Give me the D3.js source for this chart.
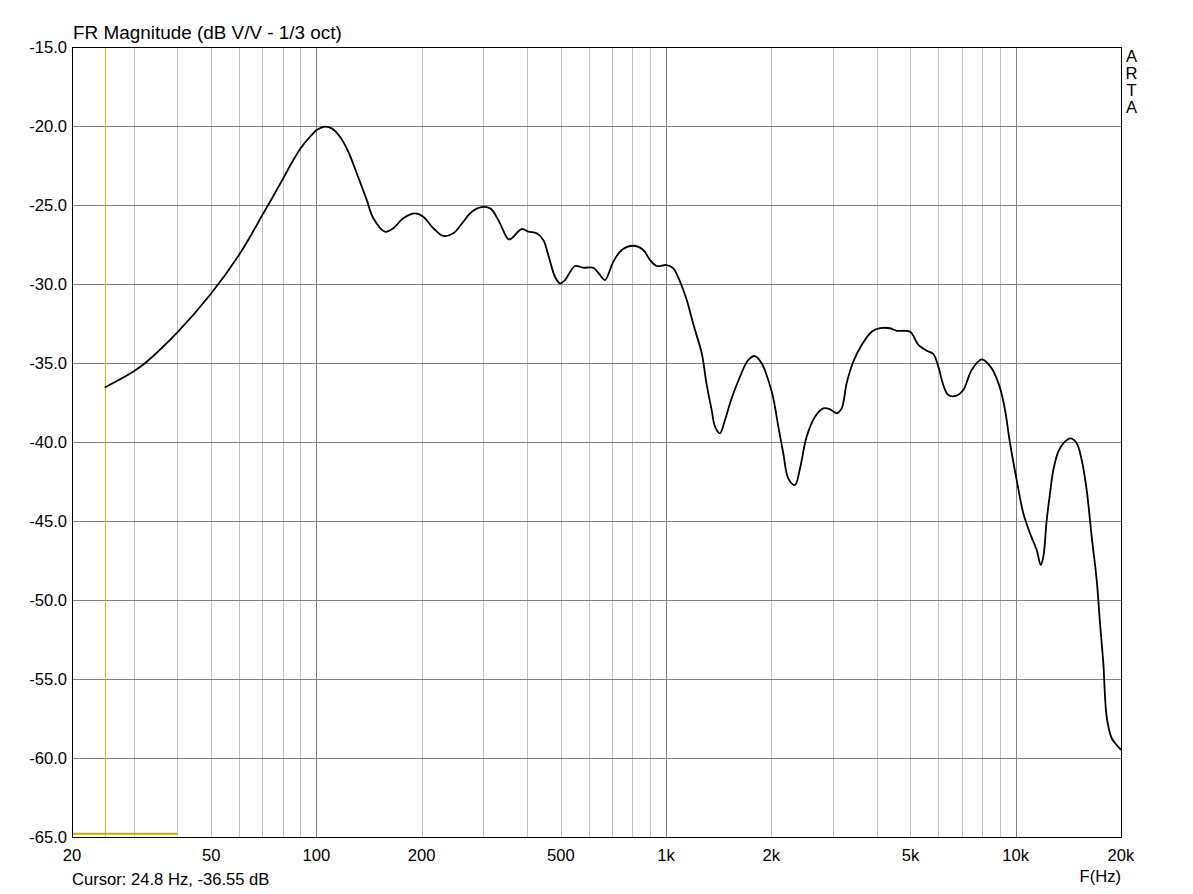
<!DOCTYPE html>
<html>
<head>
<meta charset="utf-8">
<script src="https://cdn.jsdelivr.net/npm/d3@7"></script>
<style>
  html, body { margin: 0; padding: 0; background: #ffffff; }
  svg text { font-family: Arial, "Liberation Sans", sans-serif; fill: #000; }
</style>
</head>
<body>
<svg id="chart" width="1193" height="894"></svg>
<script>
// ---- data ----
const freqHz = [24.8, 29.9, 32.4, 39.9, 49.6, 60.5, 70.5, 73.7, 80.4, 85.9, 90.8, 95.9, 100.2, 105.8, 110.6, 116.8, 123.4, 130.4, 139.3, 145.5, 157.1, 165.9, 177.2, 191.4, 202.2, 216.0, 230.6, 246.4, 263.1, 275.0, 293.8, 313.7, 320.6, 335.0, 353.8, 361.8, 386.4, 403.6, 426.6, 445.5, 460.4, 481.2, 497.3, 514.0, 549.0, 580.0, 619.4, 647.1, 668.8, 706.4, 746.7, 806.0, 860.6, 899.6, 940.2, 1004, 1049, 1096, 1146, 1184, 1210, 1265, 1307, 1350, 1380, 1426, 1474, 1540, 1627, 1718, 1796, 1877, 1960, 2026, 2094, 2164, 2236, 2337, 2416, 2524, 2667, 2816, 2944, 3076, 3178, 3284, 3430, 3626, 3873, 4091, 4370, 4566, 4986, 5266, 5566, 5812, 6006, 6206, 6414, 6778, 7080, 7482, 7990, 8536, 9016, 9318, 9632, 10064, 10512, 10986, 11482, 11786, 11992, 12262, 12532, 12808, 13236, 13678, 14360, 14938, 15440, 15956, 16490, 17042, 17418, 17802, 18204, 18814, 19442, 20000];
const magDb = [-36.55, -35.55, -35.0, -33.1, -30.7, -28.06, -25.53, -24.79, -23.31, -22.15, -21.31, -20.68, -20.25, -20.04, -20.15, -20.68, -21.63, -22.99, -24.68, -25.84, -26.69, -26.47, -25.84, -25.53, -25.74, -26.47, -26.96, -26.79, -26.06, -25.53, -25.15, -25.21, -25.42, -26.16, -27.17, -27.11, -26.52, -26.69, -26.79, -27.22, -28.16, -29.54, -29.96, -29.75, -28.86, -28.97, -28.97, -29.43, -29.75, -28.59, -27.85, -27.58, -27.85, -28.48, -28.86, -28.80, -29.01, -29.85, -31.01, -32.17, -32.91, -34.39, -36.39, -37.97, -39.03, -39.45, -38.61, -37.23, -35.87, -34.81, -34.56, -35.02, -36.08, -37.23, -39.03, -40.72, -42.30, -42.72, -41.66, -39.66, -38.40, -37.87, -37.93, -38.18, -37.87, -36.28, -34.92, -33.86, -33.02, -32.80, -32.80, -32.96, -33.02, -33.86, -34.22, -34.43, -35.23, -36.39, -37.03, -37.07, -36.71, -35.44, -34.77, -35.34, -36.58, -37.97, -40.08, -42.41, -44.51, -45.78, -46.84, -47.78, -47.26, -44.94, -43.25, -41.77, -40.61, -40.08, -39.77, -40.08, -41.14, -43.04, -45.99, -48.73, -51.47, -54.01, -57.39, -58.75, -59.18, -59.49];

const xTickValues = [20, 50, 100, 200, 500, 1000, 2000, 5000, 10000, 20000];
const xTickLabels = ["20", "50", "100", "200", "500", "1k", "2k", "5k", "10k", "20k"];
const majorGridFreqs = [100, 1000, 10000];
const minorGridFreqs = [30, 40, 50, 60, 70, 80, 90, 200, 300, 400, 500, 600, 700, 800, 900,
                        2000, 3000, 4000, 5000, 6000, 7000, 8000, 9000];
const yTickValues = [-15, -20, -25, -30, -35, -40, -45, -50, -55, -60, -65];
const cursorFreq = 24.8;
const markerRange = [20, 40];
const markerLevel = -64.8;

const titleText = "FR Magnitude (dB V/V - 1/3 oct)";
const cursorText = "Cursor: 24.8 Hz, -36.55 dB";
const axisText = "F(Hz)";
const brandLetters = ["A", "R", "T", "A"];

// ---- layout ----
const L = 72, R = 1121, T = 47, B = 837;
const svg = d3.select("#chart");
const x = d3.scaleLog().domain([20, 20000]).range([L, R]);
const y = d3.scaleLinear().domain([-65, -15]).range([B, T]);
const px = v => Math.round(v) + 0.5;

// grid: minor verticals
svg.append("g").selectAll("line").data(minorGridFreqs).join("line")
  .attr("x1", d => px(x(d))).attr("x2", d => px(x(d)))
  .attr("y1", T).attr("y2", B)
  .attr("stroke", "#c0c0c0").attr("stroke-width", 1);
// major verticals
svg.append("g").selectAll("line").data(majorGridFreqs).join("line")
  .attr("x1", d => px(x(d))).attr("x2", d => px(x(d)))
  .attr("y1", T).attr("y2", B)
  .attr("stroke", "#808080").attr("stroke-width", 1);
// horizontals
svg.append("g").selectAll("line").data(yTickValues).join("line")
  .attr("x1", L).attr("x2", R)
  .attr("y1", d => px(y(d))).attr("y2", d => px(y(d)))
  .attr("stroke", "#808080").attr("stroke-width", 1);

// cursor line
svg.append("line")
  .attr("x1", px(x(cursorFreq))).attr("x2", px(x(cursorFreq)))
  .attr("y1", T).attr("y2", B)
  .attr("stroke", "#c8c800").attr("stroke-width", 1);
// bottom marker
svg.append("line")
  .attr("x1", x(markerRange[0])).attr("x2", x(markerRange[1]))
  .attr("y1", y(markerLevel)).attr("y2", y(markerLevel))
  .attr("stroke", "#b4b400").attr("stroke-width", 2);

// frame
svg.append("rect")
  .attr("x", L + 0.5).attr("y", T + 0.5)
  .attr("width", R - L).attr("height", B - T)
  .attr("fill", "none").attr("stroke", "#000").attr("stroke-width", 1);

// curve
const pts = freqHz.map((f, i) => [f, magDb[i]]);
svg.append("path")
  .datum(pts)
  .attr("fill", "none").attr("stroke", "#000").attr("stroke-width", 1.8)
  .attr("stroke-linejoin", "round")
  .attr("d", d3.line().x(d => x(d[0])).y(d => y(d[1])).curve(d3.curveCatmullRom.alpha(0.5)));

// y tick labels
svg.append("g").selectAll("text").data(yTickValues).join("text")
  .attr("x", L - 5).attr("y", d => y(d) + 6)
  .attr("text-anchor", "end").attr("font-size", 16.6)
  .text(d => d.toFixed(1));

// x tick labels
svg.append("g").selectAll("text").data(xTickValues).join("text")
  .attr("x", d => x(d)).attr("y", 861)
  .attr("text-anchor", "middle").attr("font-size", 16.6)
  .text((d, i) => xTickLabels[i]);

// title
svg.append("text").attr("x", 73).attr("y", 39).attr("font-size", 18.9).text(titleText);
// cursor text
svg.append("text").attr("x", 72).attr("y", 885).attr("font-size", 16.6).text(cursorText);
// axis label
svg.append("text").attr("x", 1121).attr("y", 882).attr("text-anchor", "end").attr("font-size", 16.6).text(axisText);
// ARTA brand
svg.append("g").selectAll("text").data(brandLetters).join("text")
  .attr("x", 1131.5).attr("y", (d, i) => 62 + i * 17)
  .attr("text-anchor", "middle").attr("font-size", 16.6)
  .text(d => d);
</script>
</body>
</html>
